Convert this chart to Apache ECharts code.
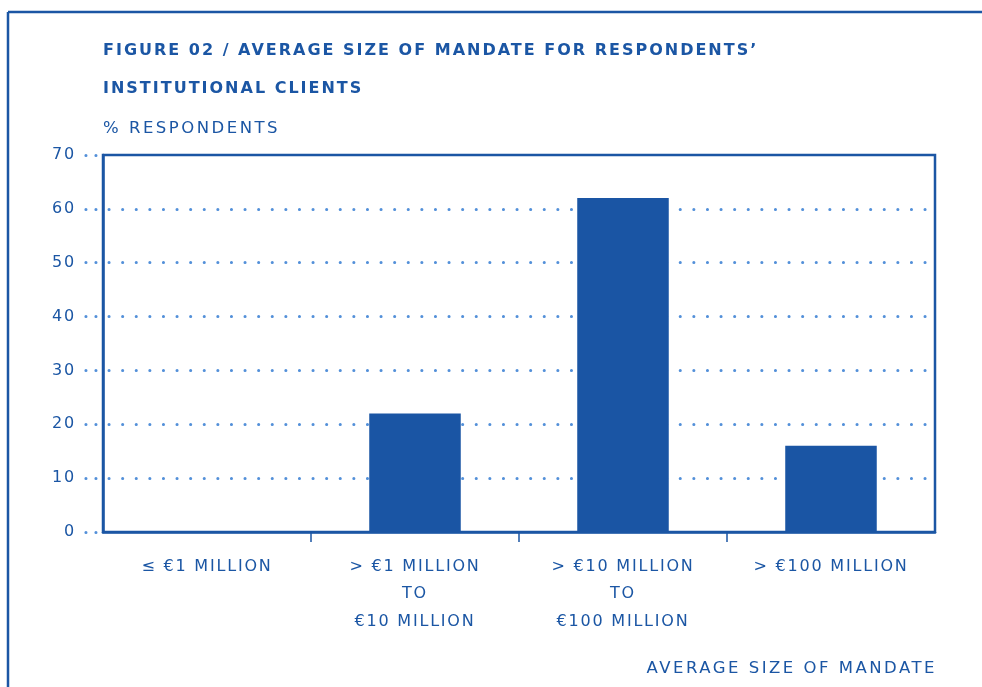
<!DOCTYPE html>
<html>
<head>
<meta charset="utf-8">
<script src="https://cdn.jsdelivr.net/npm/echarts@6/dist/echarts.min.js"></script>
<style>html,body{margin:0;padding:0;background:#fff;}#c{width:982px;height:687px;}</style>
</head>
<body>
<div id="c"></div>
<script>
var categories = ['≤ €1 MILLION', '> €1 MILLION\nTO\n€10 MILLION', '> €10 MILLION\nTO\n€100 MILLION', '> €100 MILLION'];
var values = [0, 22, 62, 16];
var yTicks = [0, 10, 20, 30, 40, 50, 60, 70];
var categoryBoundaries = [1, 2, 3];
var titleLines = ['FIGURE 02 / AVERAGE SIZE OF MANDATE FOR RESPONDENTS’', 'INSTITUTIONAL CLIENTS'];
var yAxisTitle = '% RESPONDENTS';
var xAxisTitle = 'AVERAGE SIZE OF MANDATE';

var BLUE = '#1b56a4';
var DOT = '#5390d9';
var FONT = 'DejaVu Sans';

// tracked (letter-spaced) typography like the original
(function () {
  var P = CanvasRenderingContext2D.prototype;
  if (!('letterSpacing' in P)) return;
  function sp(font) {
    if (/bold/.test(font)) return '2px';
    if (/16\.5px/.test(font)) return '2.5px';
    return '1.8px';
  }
  var f = P.fillText, m = P.measureText;
  P.fillText = function (t, x, y, w) {
    this.letterSpacing = sp(this.font);
    return w === undefined ? f.call(this, t, x, y) : f.call(this, t, x, y, w);
  };
  P.measureText = function (t) {
    this.letterSpacing = sp(this.font);
    return m.call(this, t);
  };
})();

var chart = echarts.init(document.getElementById('c'));
chart.setOption({
  animation: false,
  backgroundColor: '#fff',
  grid: {left: 103, right: 47, top: 155, bottom: 155, show: true, borderColor: BLUE, borderWidth: 2.5, backgroundColor: 'transparent'},
  graphic: [
    {type: 'line', shape: {x1: 8, y1: 12, x2: 982, y2: 12}, style: {stroke: BLUE, lineWidth: 2.5}},
    {type: 'line', shape: {x1: 8, y1: 12, x2: 8, y2: 687}, style: {stroke: BLUE, lineWidth: 2.5}},
    {type: 'text', left: 103, top: 42, style: {text: titleLines[0], fill: BLUE, font: 'bold 16px ' + FONT}},
    {type: 'text', left: 103, top: 80, style: {text: titleLines[1], fill: BLUE, font: 'bold 16px ' + FONT}},
    {type: 'text', left: 103, top: 119, style: {text: yAxisTitle, fill: BLUE, font: '16.5px ' + FONT}},
    {type: 'text', right: 45, top: 659, style: {text: xAxisTitle, fill: BLUE, font: '16.5px ' + FONT}}
  ],
  xAxis: [{
    type: 'category',
    data: categories,
    axisLine: {show: true, lineStyle: {color: BLUE, width: 2.5}},
    axisTick: {show: false},
    axisLabel: {color: BLUE, fontFamily: FONT, fontSize: 16, lineHeight: 27.5, margin: 21},
    splitLine: {show: false}
  }, {
    type: 'value',
    position: 'bottom',
    min: 0, max: categories.length, interval: 1,
    axisLine: {show: false},
    axisTick: {show: true, length: 10, customValues: categoryBoundaries, lineStyle: {color: BLUE, width: 1.5}},
    axisLabel: {show: false},
    splitLine: {show: false}
  }],
  yAxis: {
    type: 'value',
    min: 0, max: 70, interval: 10,
    axisLine: {show: true, lineStyle: {color: BLUE, width: 2.5}},
    axisTick: {show: true, length: 18, lineStyle: {color: DOT, width: 3, type: [0.1, 9.9], dashOffset: 3, cap: 'round'}},
    axisLabel: {color: BLUE, fontFamily: FONT, fontSize: 16, margin: 27},
    splitLine: {show: true, showMinLine: false, showMaxLine: false, lineStyle: {color: DOT, width: 3, type: [0.1, 13.5], cap: 'round', dashOffset: 7.6}}
  },
  series: [{
    type: 'bar',
    data: values,
    barWidth: '44%',
    xAxisIndex: 0,
    itemStyle: {color: '#1a55a4'}
  }]
});
</script>
</body>
</html>
